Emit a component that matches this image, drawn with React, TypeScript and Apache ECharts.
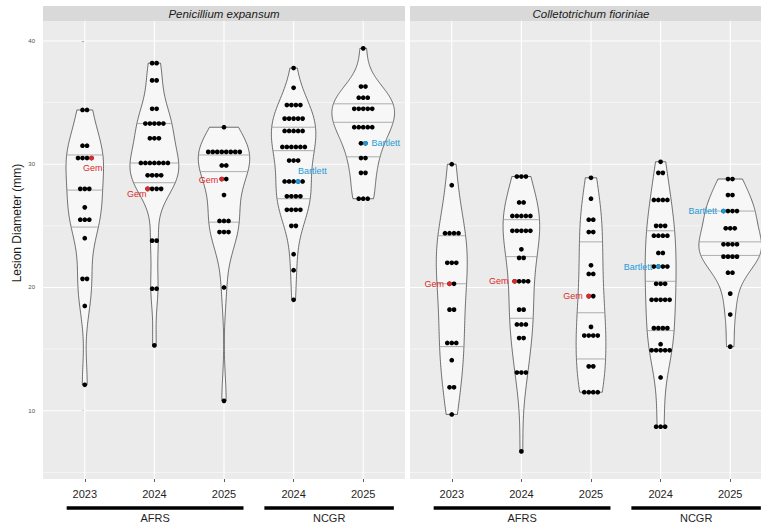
import React, { useEffect, useRef } from "react";
import * as echarts from "echarts";

// ---------- data (lesion diameters, mm) ----------
const yearLabels = ["2023", "2024", "2025", "2024", "2025"];
const siteLabels = ["AFRS", "NCGR"];
const panelTitles = ["Penicillium expansum", "Colletotrichum fioriniae"];
const yTickValues = [10, 20, 30, 40];
const yMinorBreaks = [5, 15, 25, 35];

const penAFRS2023 = [34.4, 34.4, 31.5, 31.5, 30.5, 30.5, 30.5, 30.5, 28.0, 28.0, 28.0, 26.5, 25.5, 25.5, 25.5, 24.0, 20.7, 20.7, 18.5, 12.1];
const penAFRS2024 = [38.2, 38.2, 36.8, 36.8, 34.5, 34.5, 33.3, 33.3, 33.3, 33.3, 33.3, 32.1, 32.1, 32.1, 30.1, 30.1, 30.1, 30.1, 30.1, 30.1, 30.1, 29.1, 29.1, 29.1, 29.1, 28.0, 28.0, 28.0, 28.0, 23.8, 23.8, 19.9, 19.9, 15.3];
const penAFRS2025 = [33.0, 31.0, 31.0, 31.0, 31.0, 31.0, 31.0, 31.0, 31.0, 29.9, 29.9, 28.8, 28.8, 27.5, 25.4, 25.4, 25.4, 24.5, 24.5, 24.5, 20.0, 10.8];
const penNCGR2024 = [37.8, 36.2, 34.8, 34.8, 34.8, 34.8, 33.7, 33.7, 33.7, 33.7, 33.7, 32.7, 32.7, 32.7, 32.7, 32.7, 31.4, 31.4, 31.4, 31.4, 31.4, 31.4, 30.3, 30.3, 30.3, 28.6, 28.6, 28.6, 28.6, 28.6, 27.4, 27.4, 27.4, 27.4, 26.3, 26.3, 26.3, 26.3, 25.0, 25.0, 22.7, 21.4, 19.0];
const penNCGR2025 = [39.4, 36.3, 36.3, 35.4, 35.4, 35.4, 34.5, 34.5, 34.5, 34.5, 34.5, 33.0, 33.0, 33.0, 33.0, 33.0, 31.7, 31.7, 30.5, 30.5, 29.3, 29.3, 27.2, 27.2, 27.2];

const colAFRS2023 = [30.0, 28.3, 24.4, 24.4, 24.4, 24.4, 22.0, 22.0, 22.0, 20.3, 20.3, 18.2, 18.2, 15.5, 15.5, 15.5, 14.1, 11.9, 11.9, 9.7];
const colAFRS2024 = [29.0, 29.0, 29.0, 26.9, 26.9, 25.8, 25.8, 25.8, 25.8, 25.8, 24.6, 24.6, 24.6, 24.6, 24.6, 23.1, 22.4, 22.4, 20.5, 20.5, 20.5, 20.5, 18.2, 18.2, 17.0, 17.0, 17.0, 15.9, 15.9, 13.1, 13.1, 13.1, 6.7];
const colAFRS2025 = [28.9, 27.2, 25.5, 25.5, 24.5, 24.5, 21.8, 21.1, 21.1, 19.3, 19.3, 16.8, 16.1, 16.1, 16.1, 16.1, 13.6, 13.6, 11.5, 11.5, 11.5, 11.5];
const colNCGR2024 = [30.2, 29.3, 29.3, 27.1, 27.1, 27.1, 27.1, 25.0, 25.0, 25.0, 24.2, 24.2, 24.2, 24.2, 22.8, 22.8, 21.7, 21.7, 21.7, 21.7, 20.3, 20.3, 20.3, 19.0, 19.0, 19.0, 19.0, 19.0, 16.7, 16.7, 16.7, 16.7, 15.4, 14.9, 14.9, 14.9, 14.9, 14.9, 12.7, 8.7, 8.7, 8.7];
const colNCGR2025 = [28.8, 28.8, 27.5, 27.5, 26.2, 26.2, 26.2, 26.2, 24.8, 24.8, 24.8, 23.5, 23.5, 23.5, 23.5, 22.5, 22.5, 22.5, 22.5, 21.2, 21.2, 19.5, 17.8, 15.2];

// quantile lines (25%, 50%, 75%)
const penQuantiles = [[24.9, 27.9, 30.75], [28.5, 30.1, 33.3], [25.3, 29.4, 30.75], [27.2, 31.1, 33.0], [30.6, 33.4, 34.9]];
const colQuantiles = [[15.2, 20.3, 24.2], [17.5, 22.5, 25.5], [14.2, 17.95, 23.7], [16.5, 20.5, 24.6], [22.6, 23.7, 26.2]];

// highlighted cultivars
const hlPanel = [0, 0, 0, 0, 0, 1, 1, 1, 1, 1];
const hlCat = [0, 1, 2, 3, 4, 0, 1, 2, 3, 4];
const hlValue = [30.5, 28.0, 28.8, 28.6, 31.7, 20.3, 20.5, 19.3, 21.7, 26.2];
const hlLabel = ["Gem", "Gem", "Gem", "Bartlett", "Bartlett", "Gem", "Gem", "Gem", "Bartlett", "Bartlett"];

// ---------- layout / style ----------
const hlSlot = [3, 0, 0, 3, 1, 0, 0, 0, 1, 0];
const hlLabelPlace: [string, number, number][] = [
  ["left", -8.5, 10], ["right", -1, 5.5], ["right", -3.5, 1], ["left", 0, -10], ["left", 6, 0],
  ["right", -5.5, 0], ["right", -6, 0], ["right", -6, 0], ["right", -6, 0], ["right", -6.5, 0],
];
const siteSpans = [[-0.26, 2.28], [2.58, 4.44]];
const FONT = "'Liberation Sans', Arial, Helvetica, sans-serif";
const Y_MIN = 4.46;
const Y_MAX = 41.62;
const X_MIN = -0.6;
const X_MAX = 4.6;
const DOT_R = 2.35;
const DOT_STEP = 4.5;
const RED = "#DC2A2A";
const BLUE = "#1E9AD6";
const GRID_LEFT = [43, 410];
const GRID_TOP = 21;
const GRID_W = 362;
const GRID_H = 458;

const panelGroups = [
  [penAFRS2023, penAFRS2024, penAFRS2025, penNCGR2024, penNCGR2025],
  [colAFRS2023, colAFRS2024, colAFRS2025, colNCGR2024, colNCGR2025],
];
const panelQuantiles = [penQuantiles, colQuantiles];

function q7(s: number[], p: number) {
  const h = (s.length - 1) * p;
  const lo = Math.floor(h);
  const hi = Math.ceil(h);
  return s[lo] + (h - lo) * (s[hi] - s[lo]);
}

function buildViolins(groups: number[][]) {
  const res = groups.map((vals) => {
    const s = [...vals].sort((a, b) => a - b);
    const n = s.length;
    const mean = s.reduce((a, b) => a + b, 0) / n;
    const sd = Math.sqrt(s.reduce((a, b) => a + (b - mean) * (b - mean), 0) / (n - 1));
    const iqr = q7(s, 0.75) - q7(s, 0.25);
    let lo = Math.min(sd, iqr / 1.34);
    if (!(lo > 0)) lo = sd;
    const bw = 0.9 * lo * Math.pow(n, -0.2);
    const ys: number[] = [];
    const ds: number[] = [];
    const K = 160;
    for (let i = 0; i <= K; i++) {
      const y = s[0] + ((s[n - 1] - s[0]) * i) / K;
      let d = 0;
      for (const x of s) {
        const z = (y - x) / bw;
        d += Math.exp(-0.5 * z * z);
      }
      d /= n * bw * Math.sqrt(2 * Math.PI);
      ys.push(y);
      ds.push(d);
    }
    return { ys, ds };
  });
  const maxD = Math.max(...res.map((r) => Math.max(...r.ds)));
  return res.map((r) => ({ ys: r.ys, hw: r.ds.map((d) => (0.45 * d) / maxD) }));
}

function hwAt(v: { ys: number[]; hw: number[] }, y: number) {
  const { ys, hw } = v;
  if (y <= ys[0]) return hw[0];
  if (y >= ys[ys.length - 1]) return hw[hw.length - 1];
  for (let i = 1; i < ys.length; i++) {
    if (ys[i] >= y) {
      const t = (y - ys[i - 1]) / (ys[i] - ys[i - 1]);
      return hw[i - 1] + t * (hw[i] - hw[i - 1]);
    }
  }
  return 0;
}

function dotRows(vals: number[]) {
  const m = new Map<string, { v: number; n: number }>();
  vals.forEach((v) => {
    const k = v.toFixed(2);
    const e = m.get(k);
    if (e) e.n += 1;
    else m.set(k, { v, n: 1 });
  });
  return Array.from(m.values());
}

function buildOption() {
  const series: any[] = [];
  const xAxes: any[] = [];
  const yAxes: any[] = [];
  const grids: any[] = [];

  for (let p = 0; p < 2; p++) {
    grids.push({
      left: GRID_LEFT[p], top: GRID_TOP, width: GRID_W, height: GRID_H,
      show: true, backgroundColor: "#EBEBEB", borderWidth: 0, containLabel: false,
    });
    xAxes.push({
      type: "value", gridIndex: p, min: X_MIN, max: X_MAX,
      axisLine: { show: false },
      splitLine: { show: false },
      axisTick: { show: true, customValues: [0, 1, 2, 3, 4], length: 3, lineStyle: { color: "#333", width: 0.8 } },
      axisLabel: {
        customValues: [0, 1, 2, 3, 4],
        formatter: (v: number) => (Math.abs(v - Math.round(v)) < 1e-6 && v >= 0 && v <= 4 ? yearLabels[Math.round(v)] : ""),
        fontSize: 11, color: "#1F1F1F", fontFamily: FONT, margin: 9,
      },
    });
    yAxes.push({
      type: "value", gridIndex: p, min: Y_MIN, max: Y_MAX,
      axisLine: { show: false },
      splitLine: { show: false },
      axisTick: { show: p === 0, customValues: yTickValues, length: 3, lineStyle: { color: "#333", width: 0.8 } },
      axisLabel: {
        show: p === 0,
        customValues: yTickValues,
        formatter: (v: number) => (Math.abs(v % 10) < 1e-6 ? String(v) : ""),
        fontSize: 6, color: "#4D4D4D", fontFamily: FONT, margin: 8,
      },
    });

    const groups = panelGroups[p];
    const violins = buildViolins(groups);
    const quants = panelQuantiles[p];

    // grid lines
    const lineData: number[][] = [];
    yTickValues.forEach((v) => lineData.push([0, v, 0]));
    yMinorBreaks.forEach((v) => lineData.push([0, v, 1]));
    [0, 1, 2, 3, 4].forEach((c) => lineData.push([c, 20, 2]));
    series.push({
      type: "custom", xAxisIndex: p, yAxisIndex: p, z: 1, silent: true, clip: true,
      data: lineData,
      renderItem: (params: any, api: any) => {
        const cs = params.coordSys;
        const kind = api.value(2);
        if (kind === 2) {
          const c = api.coord([api.value(0), Y_MIN]);
          return { type: "line", shape: { x1: c[0], y1: cs.y, x2: c[0], y2: cs.y + cs.height }, style: { stroke: "#FFFFFF", lineWidth: 1.1 } };
        }
        const c = api.coord([0, api.value(1)]);
        return {
          type: "line",
          shape: { x1: cs.x, y1: c[1], x2: cs.x + cs.width, y2: c[1] },
          style: { stroke: "#FFFFFF", lineWidth: kind === 0 ? 1.1 : 0.55 },
        };
      },
    });

    // violins
    series.push({
      type: "custom", xAxisIndex: p, yAxisIndex: p, z: 2, silent: true,
      data: groups.map((g, i) => [i, q7([...g].sort((a, b) => a - b), 0.5)]),
      renderItem: (params: any, api: any) => {
        const i = params.dataIndex;
        const v = violins[i];
        const cat = api.value(0);
        const right = v.ys.map((y, k) => api.coord([cat + v.hw[k], y]));
        const left = v.ys.map((y, k) => api.coord([cat - v.hw[k], y])).reverse();
        const children: any[] = [
          { type: "polygon", shape: { points: [...right, ...left] }, style: { fill: "#F7F7F7", stroke: "#333333", lineWidth: 0.7 } },
        ];
        quants[i].forEach((q) => {
          const w = hwAt(v, q);
          const a = api.coord([cat - w, q]);
          const b = api.coord([cat + w, q]);
          children.push({ type: "line", shape: { x1: a[0], y1: a[1], x2: b[0], y2: b[1] }, style: { stroke: "#9A9A9A", lineWidth: 0.8 } });
        });
        return { type: "group", children };
      },
    });

    // dots
    const dotData: number[][] = [];
    groups.forEach((g, i) => dotRows(g).forEach((r) => dotData.push([i, r.v, r.n])));
    series.push({
      type: "custom", xAxisIndex: p, yAxisIndex: p, z: 3, silent: true,
      data: dotData,
      renderItem: (params: any, api: any) => {
        const c = api.coord([api.value(0), api.value(1)]);
        const n = api.value(2);
        const children: any[] = [];
        for (let k = 0; k < n; k++) {
          children.push({ type: "circle", shape: { cx: c[0] + (k - (n - 1) / 2) * DOT_STEP, cy: c[1], r: DOT_R }, style: { fill: "#000000" } });
        }
        return { type: "group", children };
      },
    });

    // highlighted cultivars
    const hlData: number[][] = [];
    hlPanel.forEach((pp, k) => {
      if (pp === p) hlData.push([hlCat[k], hlValue[k], k]);
    });
    series.push({
      type: "custom", xAxisIndex: p, yAxisIndex: p, z: 4, silent: true, clip: false,
      data: hlData,
      renderItem: (params: any, api: any) => {
        const k = api.value(2);
        const vals = groups[hlCat[k]];
        const n = vals.filter((v) => Math.abs(v - hlValue[k]) < 1e-6).length || 1;
        const c = api.coord([hlCat[k], hlValue[k]]);
        const cx = c[0] + (hlSlot[k] - (n - 1) / 2) * DOT_STEP;
        const color = hlLabel[k] === "Gem" ? RED : BLUE;
        const [align, dx, dy] = hlLabelPlace[k];
        return {
          type: "group",
          children: [
            { type: "circle", shape: { cx, cy: c[1], r: DOT_R }, style: { fill: color } },
            {
              type: "text", x: cx + dx, y: c[1] + dy,
              style: { text: hlLabel[k], fill: color, fontSize: 9, fontFamily: FONT, align, verticalAlign: "middle", textAlign: align, textVerticalAlign: "middle" },
            },
          ],
        };
      },
    });

    // site group bars under the axis
    series.push({
      type: "custom", xAxisIndex: p, yAxisIndex: p, z: 4, silent: true, clip: false,
      data: siteSpans.map((s, i) => [s[0], Y_MIN, i]),
      renderItem: (params: any, api: any) => {
        const cs = params.coordSys;
        const i = api.value(2);
        const a = api.coord([siteSpans[i][0], Y_MIN]);
        const b = api.coord([siteSpans[i][1], Y_MIN]);
        const yb = cs.y + cs.height;
        return {
          type: "group",
          children: [
            { type: "line", shape: { x1: a[0], y1: yb + 29, x2: b[0], y2: yb + 29 }, style: { stroke: "#000000", lineWidth: 3.3 } },
            {
              type: "text", x: (a[0] + b[0]) / 2, y: yb + 38.5,
              style: { text: siteLabels[i], fill: "#1F1F1F", fontSize: 11, fontFamily: FONT, align: "center", verticalAlign: "middle", textAlign: "center", textVerticalAlign: "middle" },
            },
          ],
        };
      },
    });
  }

  const graphic: any[] = [];
  for (let p = 0; p < 2; p++) {
    graphic.push({ type: "rect", z: 10, shape: { x: GRID_LEFT[p], y: 6, width: GRID_W, height: 15 }, style: { fill: "#D9D9D9" } });
    graphic.push({
      type: "text", z: 11, x: GRID_LEFT[p] + GRID_W / 2, y: 13.5,
      style: { text: panelTitles[p], fill: "#1A1A1A", fontSize: 11.5, fontStyle: "italic", fontFamily: FONT, textAlign: "center", textVerticalAlign: "middle", align: "center", verticalAlign: "middle" },
    });
  }
  graphic.push({
    type: "text", z: 11, x: 16.5, y: 223, rotation: Math.PI / 2,
    style: { text: "Lesion Diameter (mm)", fill: "#1A1A1A", fontSize: 12, fontFamily: FONT, textAlign: "center", textVerticalAlign: "middle", align: "center", verticalAlign: "middle" },
  });

  return {
    animation: false,
    backgroundColor: "#FFFFFF",
    grid: grids,
    xAxis: xAxes,
    yAxis: yAxes,
    series,
    graphic,
  };
}

export default function App() {
  const ref = useRef<HTMLDivElement>(null);
  useEffect(() => {
    if (!ref.current) return;
    const chart = echarts.init(ref.current, undefined, { renderer: "svg" });
    chart.setOption(buildOption() as any);
    return () => chart.dispose();
  }, []);
  return (
    <div style={{ position: "absolute", left: 0, top: 0, width: 761, height: 525, overflow: "hidden", background: "#FFFFFF" }}>
      <div ref={ref} style={{ position: "absolute", left: 0, top: 0, width: 790, height: 525 }} />
    </div>
  );
}
